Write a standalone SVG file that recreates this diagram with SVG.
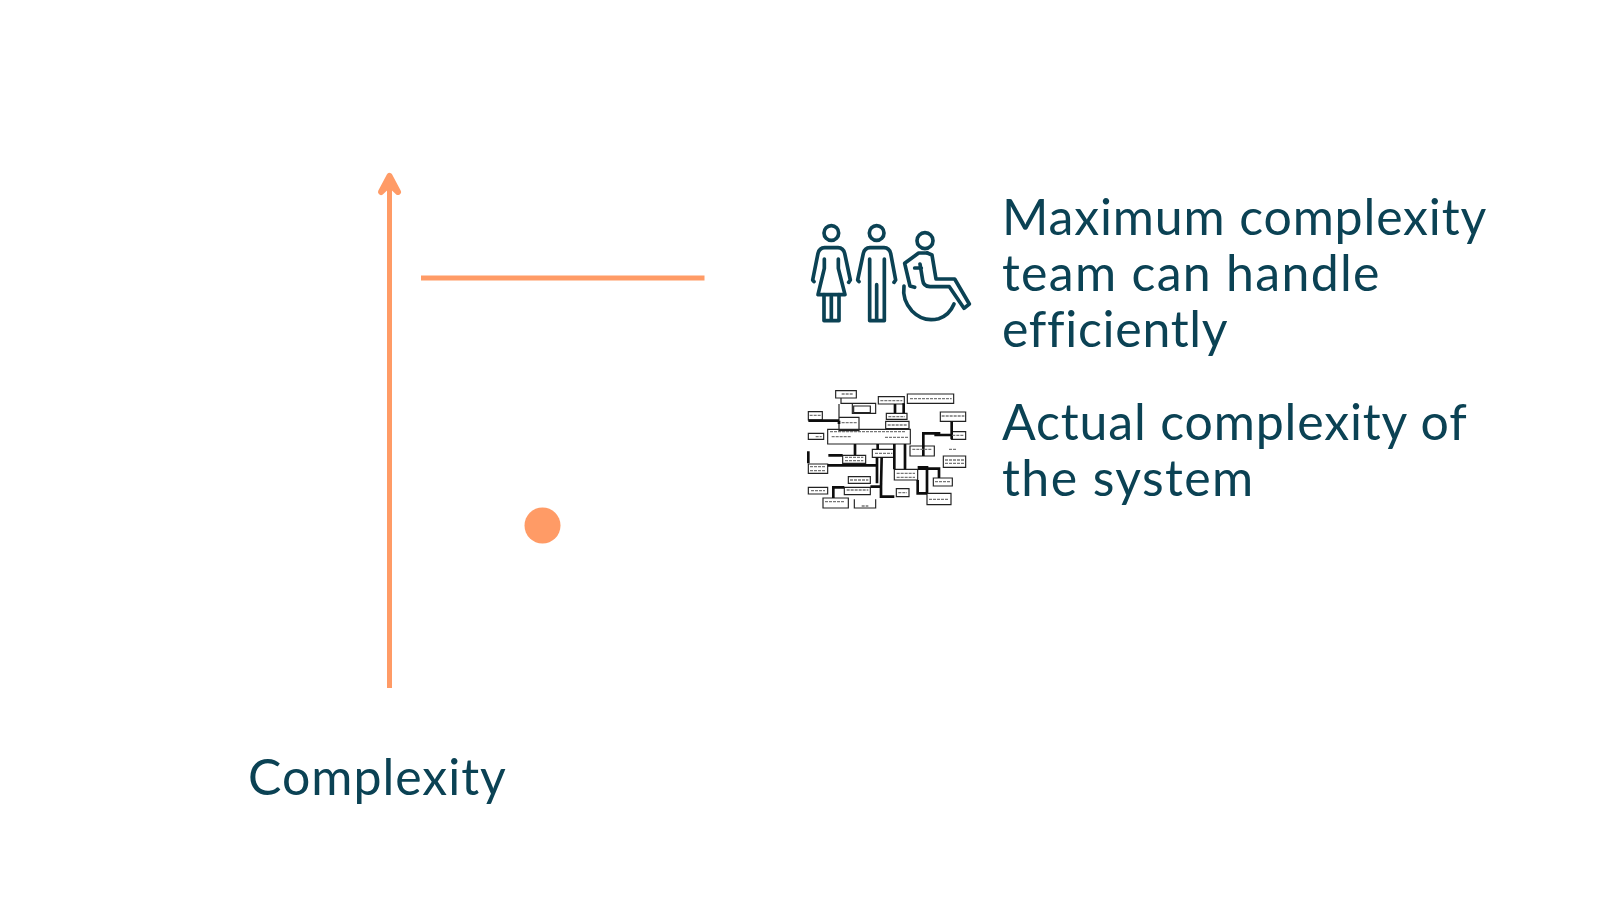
<svg xmlns="http://www.w3.org/2000/svg" width="1600" height="900" viewBox="0 0 1600 900">
<style>
.t{font-family:"Lato","Open Sans",sans-serif;font-size:50px;fill:#0b4254;letter-spacing:.85px}
.o{stroke:#ff9b66;stroke-width:5;fill:none}
.i{fill:none;stroke:#0b4254;stroke-width:11;stroke-linecap:round;stroke-linejoin:round}
.b{fill:none;stroke:#222;stroke-width:3.500}
.h{fill:none;stroke:#111;stroke-width:8}
.g{fill:none;stroke:#777;stroke-width:4;stroke-dasharray:9 3}
</style>
<defs><filter id="s" x="-5%" y="-5%" width="110%" height="110%"><feGaussianBlur stdDeviation="0.7"/></filter></defs>
<rect width="1600" height="900" fill="#fff"/>
<g id="connectors">
<path class="o" d="M389.500 688V178"/>
<path stroke="#ff9b66" stroke-width="6" fill="#ff9b66" stroke-linecap="round" stroke-linejoin="round" d="M381 192L389.500 176L398 192L389.500 184Z"/>
<path class="o" d="M421 278H704.500"/>
</g>
<g id="dot"><circle cx="542.500" cy="525.500" r="18" fill="#ff9b66"/></g>
<g id="axis-label"><text class="t" style="letter-spacing:1px" x="248" y="795">Complexity</text></g>
<g id="team-icon" transform="translate(790 200) scale(.33333)">
<g class="i">
<circle cx="124" cy="99" r="22"/>
<path d="M72 245L68 240L84 160Q88 144 104 143H144Q160 144 164 160L181 240L176 247"/>
<path d="M103 177V205L84 284H165L145 205V177"/>
<path d="M102 284V362H147V284M124 290V358"/>
<circle cx="260" cy="99" r="22"/>
<path d="M207 245L203 240L220 160Q224 144 240 143H282Q298 144 302 160L317 240L312 247"/>
<path d="M239 177V362H283V177M260 254V358"/>
<circle cx="405" cy="122" r="24"/>
<path d="M412 159H386L344 190L360 258L374 262"/>
<path d="M374 204H394M390 192L398 240Q400 259 420 260H478L522 325L538 312L494 237H438L426 165L412 159"/>
<path d="M342 258Q336 300 366 333Q400 368 446 356Q478 346 492 312"/>
</g>
</g>
<g id="maximum-label"><text class="t"><tspan x="1002" y="235">Maximum complexity</tspan><tspan x="1002" y="291" style="letter-spacing:1.3px">team can handle</tspan><tspan x="1002" y="347" style="letter-spacing:.7px">efficiently</tspan></text></g>
<g id="system-icon" transform="translate(795 380) scale(.33333)" filter="url(#s)">
<path class="b" d="M122 32H184V54H122ZM172 70H242V100H172ZM176 78H226V98H176ZM132 72V152H192V112H132M138 54V70H172M250 50H328V72H250ZM337 42H476V70H337ZM436 96H512V124H436ZM470 155H512V178H470ZM40 95H82V120H40ZM40 160H86V178H40ZM98 148H346V192H98ZM232 208H298V232H232ZM143 226H212V250H143ZM40 252H98V280H40ZM345 198H418V228H345ZM445 228H512V262H445ZM298 268H368V300H298ZM415 294H472V318H415ZM396 340H468V374H396ZM148 322H226V344H148ZM84 354H160V384H84ZM178 358V384H242V358M40 322H98V342H40ZM160 290H226V310H160ZM304 326H342V350H304ZM274 100H336V118H274ZM272 124H342V146H272Z"/>
<path class="h" d="M40 122H132M180 192V226M248 192V208M100 226H143M98 256H246M298 192V268M330 192V268M246 232V310M226 320H258V350H298M260 232L258 320M115 354V322H148M368 262H396V340M368 300V340H396M385 228V160H436M418 165H470M470 124V178M432 262V294M368 266H432M326 70V100M300 72V100M40 250V214M132 122V132"/>
<path class="g" d="M105 155H330M110 170H170M270 172H340M150 232H205M150 242H205M45 260H92M45 272H90M352 208H412M240 220H292M305 280H360M305 292H360M420 305H466M402 358H462M90 365H150M155 330H220M165 300H220M450 240H508M450 250H508M440 108H508M345 56H470M256 62H322M280 110H330M278 135H338M140 42H175M140 128H188M44 106H78M62 170H80M472 166H508M462 208H486M310 338H336M200 378H220M48 332H90"/>
</g>
<g id="actual-label"><text class="t"><tspan x="1002" y="440">Actual complexity of</tspan><tspan x="1002" y="496" style="letter-spacing:1.4px">the system</tspan></text></g>
</svg>
